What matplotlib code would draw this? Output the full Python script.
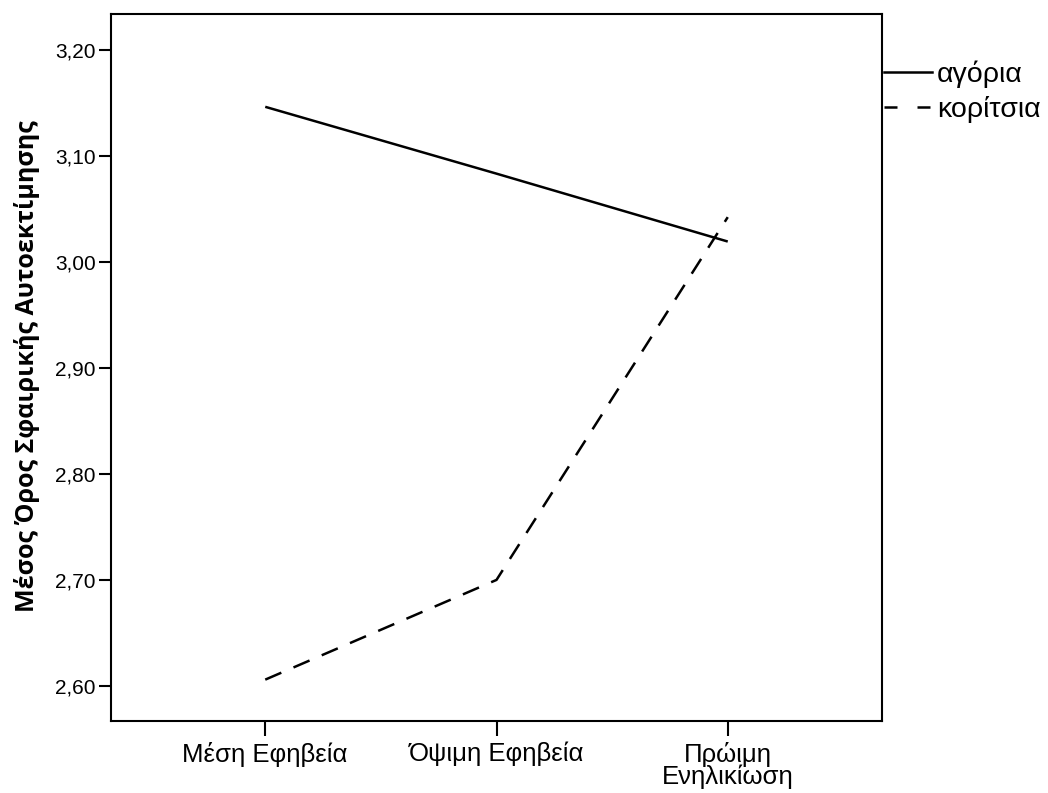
import matplotlib
matplotlib.use("Agg")
import matplotlib.pyplot as plt
from matplotlib.lines import Line2D
import matplotlib.ticker as mticker

categories = ["Μέση Εφηβεία", "Όψιμη Εφηβεία", "Πρώιμη\nΕνηλικίωση"]
boys = [3.146, 3.083, 3.019]
girls = [2.606, 2.700, 3.042]
series_labels = ["αγόρια", "κορίτσια"]
yticks = [2.60, 2.70, 2.80, 2.90, 3.00, 3.10, 3.20]
ylabel = "Μέσος Όρος Σφαιρικής Αυτοεκτίμησης"

W, H = 1048, 793
fig = plt.figure(figsize=(W / 100, H / 100), dpi=100)
ax = fig.add_axes([111 / W, 1 - 721 / H, (882 - 111) / W, (721 - 14) / H])

x = list(range(len(categories)))
ax.plot(x, boys, color="black", lw=1.8, solid_capstyle="butt")
ax.plot(x, girls, color="black", lw=1.8, dashes=(7, 5.3), dash_capstyle="butt")

ax.set_xlim(-0.667, 2.667)
ax.set_ylim(2.567, 3.2335)
ax.set_yticks(yticks)
ax.yaxis.set_major_formatter(mticker.FuncFormatter(lambda v, p: f"{v:.2f}".replace(".", ",")))
ax.set_xticks(x)
ax.set_xticklabels(categories, family=["Liberation Sans", "DejaVu Sans"], fontsize=18.5,
                   linespacing=0.86)

for s in ax.spines.values():
    s.set_linewidth(1.5)
ax.tick_params(axis="y", length=9, width=1.5, pad=2, labelsize=15)
ax.tick_params(axis="x", length=11, width=1.5, pad=4)
for t in ax.get_yticklabels():
    t.set_family(["Liberation Sans", "DejaVu Sans"])

fig.text(27 / W, 1 - 366 / H, ylabel, rotation=90, ha="center", va="center",
         fontsize=18, fontweight="bold", family=["Open Sans", "DejaVu Sans"])

handles = [Line2D([], [], color="black", lw=1.8),
           Line2D([], [], color="black", lw=1.8, dashes=(5.2, 8))]
fig.legend(handles, series_labels, loc="upper left", bbox_to_anchor=(884 / W, 1 - 60 / H),
           frameon=False, borderpad=0, borderaxespad=0, handlelength=1.7, handletextpad=0.17,
           labelspacing=0.3, prop={"family": ["Liberation Sans", "DejaVu Sans"], "size": 20.5})

fig.savefig("out.png", dpi=100)
